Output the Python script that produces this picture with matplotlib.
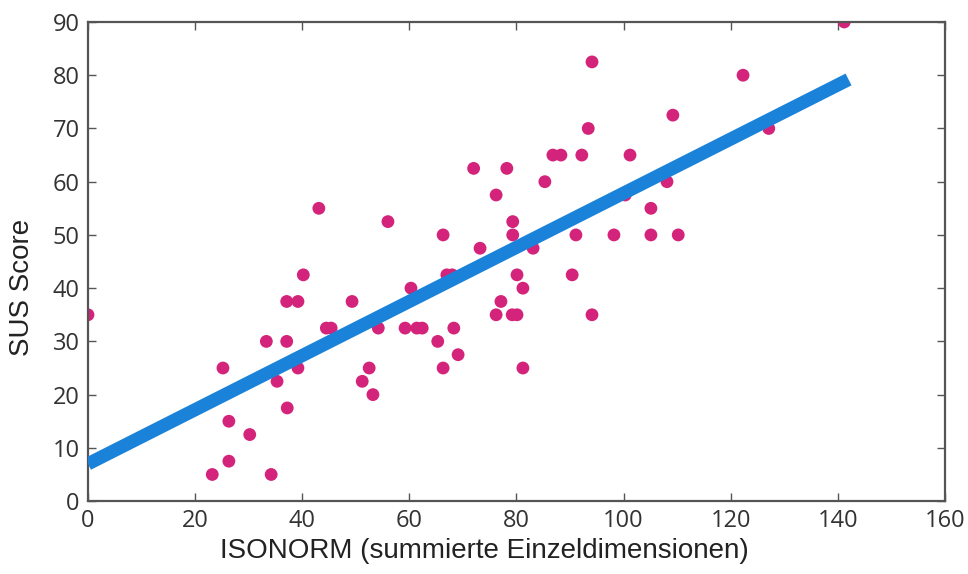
import numpy as np
import matplotlib.pyplot as plt

# ISONORM sum vs SUS score
isonorm = [0, 23.2, 25.2, 26.3, 26.3, 30.2, 33.3, 34.2, 35.3, 37.1, 37.1, 37.2,
           39.2, 39.2, 40.2, 43.1, 44.5, 45.4, 49.3, 51.2, 52.5, 53.2, 54.2, 56.0,
           59.2, 60.3, 61.4, 62.4, 65.3, 66.3, 66.3, 67.0, 68.0, 68.3, 69.1, 72.0,
           73.2, 76.2, 76.2, 77.1, 78.2, 79.2, 79.3, 79.3, 80.1, 80.1, 81.2, 81.2,
           83.1, 85.3, 86.8, 88.3, 90.4, 91.1, 92.2, 93.4, 94.1, 94.1, 98.2, 100.3,
           101.2, 105.1, 105.1, 108.1, 109.2, 110.2, 122.3, 127.1, 141.2]
sus = [35, 5, 25, 15, 7.5, 12.5, 30, 5, 22.5, 37.5, 30, 17.5,
       37.5, 25, 42.5, 55, 32.5, 32.5, 37.5, 22.5, 25, 20, 32.5, 52.5,
       32.5, 40, 32.5, 32.5, 30, 50, 25, 42.5, 42.5, 32.5, 27.5, 62.5,
       47.5, 57.5, 35, 37.5, 62.5, 35, 52.5, 50, 42.5, 35, 40, 25,
       47.5, 60, 65, 65, 42.5, 50, 65, 70, 82.5, 35, 50, 57.5,
       65, 55, 50, 60, 72.5, 50, 80, 70, 90]

# regression line end points
fit_x = [0, 142]
fit_y = [7.0, 79.2]

fig = plt.figure(figsize=(9.68, 5.74), dpi=100)
ax = fig.add_axes([0.0909, 0.127, 0.8853, 0.8347])

ax.plot(fit_x, fit_y, color='#1a83d9', lw=9.5, solid_capstyle='butt', zorder=3)
ax.scatter(isonorm, sus, s=85, color='#d4237a', edgecolors='none', zorder=2)

ax.set_xlim(0, 160)
ax.set_ylim(0, 90)
ax.set_xticks(np.arange(0, 161, 20))
ax.set_yticks(np.arange(0, 91, 10))

for sp in ax.spines.values():
    sp.set_color('#555555')
    sp.set_linewidth(1.6)
ax.tick_params(direction='in', length=6, width=1, color='#555555',
               top=True, right=True, labelsize=17, labelcolor='#333333', pad=6)
for lbl in ax.get_xticklabels() + ax.get_yticklabels():
    lbl.set_family('Open Sans')

ax.set_xlabel('ISONORM (summierte Einzeldimensionen)', family='Liberation Sans',
              fontsize=20, color='#222222')
ax.xaxis.set_label_coords(0.463, -0.078)
ax.set_ylabel('SUS Score', family='Liberation Sans', fontsize=20, color='#222222')
ax.yaxis.set_label_coords(-0.062, 0.445)

fig.savefig('out.png', dpi=100)
